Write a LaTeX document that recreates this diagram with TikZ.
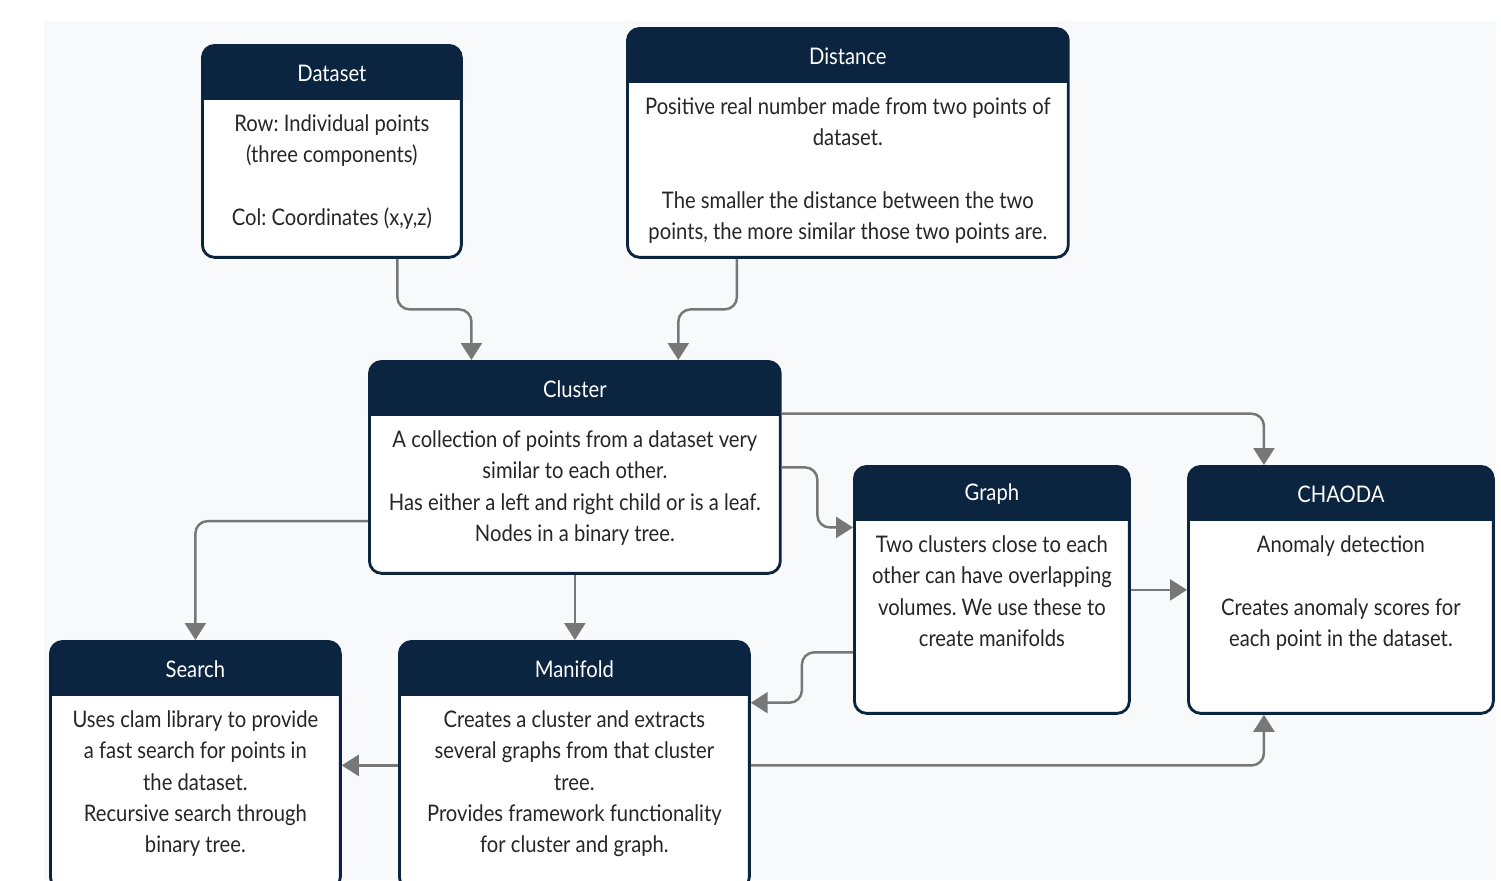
\documentclass[tikz,border=0pt]{standalone}
\usepackage{fontspec}
\setmainfont{Lato}[FakeStretch=0.885]
\usetikzlibrary{calc}
\usetikzlibrary{arrows.meta}
\usepackage{xcolor}
\definecolor{navy}{HTML}{0B2540}
\definecolor{linkgray}{HTML}{777777}
\definecolor{paper}{HTML}{F8F9FB}
\definecolor{ink}{HTML}{262626}
\frenchspacing

\begin{document}
\begin{tikzpicture}[x=0.02cm, y=-0.02cm]
        % ================= styles =================
        \tikzset{
            % card: white body with navy header band
            card/.style={draw=navy, line width=1.6pt, fill=white, rounded corners=7pt,
                anchor=north west, inner sep=0pt,
                path picture={\fill[navy, sharp corners] (path picture bounding box.north west)
                    rectangle ([yshift=-1.1cm]path picture bounding box.north east);}},
            % header title
            cardtitle/.style={text=white, font=\fontsize{13pt}{17.9pt}\selectfont, inner sep=0pt},
            % body text
            cardtext/.style={text=ink, align=center, anchor=north, inner sep=0pt,
                font=\fontsize{13pt}{17.9pt}\selectfont},
            % connector
            link/.style={draw=linkgray, line width=1.4pt, rounded corners=7pt,
                -{Triangle[width=0.42cm, length=0.34cm]}}
        }

        \clip (0,0) rectangle (1501,880);
        \fill[paper] (44,21) rectangle (1496,880);

        % ================= top row =================
        \node[card, minimum width=5.18cm, minimum height=4.24cm] (dataset) at (201,44) {};
        \node[cardtitle] (dataset-title) at ($(dataset.north)+(0,29)$) {Dataset};
        \node[cardtext] (dataset-txt) at ($(dataset.north)+(0,70)$)
            {Row: Individual points\\(three components)\\[17.9pt]Col: Coordinates (x,y,z)};

        \node[card, minimum width=8.82cm, minimum height=4.58cm] (distance) at (626,27) {};
        \node[cardtitle] (distance-title) at ($(distance.north)+(0,29)$) {Distance};
        \node[cardtext] (distance-txt) at ($(distance.north)+(0,70)$)
            {Positive real number made from two points of\\dataset.\\[17.9pt]The smaller the distance between the two\\points, the more similar those two points are.};

        % ================= middle row =================
        \node[card, minimum width=8.22cm, minimum height=4.24cm] (cluster) at (368,360) {};
        \node[cardtitle] (cluster-title) at ($(cluster.north)+(0,29)$) {Cluster};
        \node[cardtext] (cluster-txt) at ($(cluster.north)+(0,70)$)
            {A collection of points from a dataset very\\similar to each other.\\Has either a left and right child or is a leaf.\\Nodes in a binary tree.};

        \node[card, minimum width=5.5cm, minimum height=4.94cm] (graph) at (853,465) {};
        \node[cardtitle] (graph-title) at ($(graph.north)+(0,29)$) {Graph};
        \node[cardtext] (graph-txt) at ($(graph.north)+(0,70)$)
            {Two clusters close to each\\other can have overlapping\\volumes. We use these to\\create manifolds};

        \node[card, minimum width=6.1cm, minimum height=4.94cm] (chaoda) at (1187,465) {};
        \node[cardtitle] (chaoda-title) at ($(chaoda.north)+(0,29)$) {CHAODA};
        \node[cardtext] (chaoda-txt) at ($(chaoda.north)+(0,70)$)
            {Anomaly detection\\[17.9pt]Creates anomaly scores for\\each point in the dataset.};

        % ================= bottom row =================
        \node[card, minimum width=5.8cm, minimum height=4.96cm] (search) at (49,640) {};
        \node[cardtitle] (search-title) at ($(search.north)+(0,29)$) {Search};
        \node[cardtext] (search-txt) at ($(search.north)+(0,70)$)
            {Uses clam library to provide\\a fast search for points in\\the dataset.\\Recursive search through\\binary tree.};

        \node[card, minimum width=7cm, minimum height=4.96cm] (manifold) at (398,640) {};
        \node[cardtitle] (manifold-title) at ($(manifold.north)+(0,29)$) {Manifold};
        \node[cardtext] (manifold-txt) at ($(manifold.north)+(0,70)$)
            {Creates a cluster and extracts\\several graphs from that cluster\\tree.\\Provides framework functionality\\for cluster and graph.};

        % ================= connectors =================
        \coordinate (dataset-out) at ($(dataset.south west)!.75!(dataset.south east)$);
        \coordinate (distance-out) at ($(distance.south west)!.25!(distance.south east)$);
        \coordinate (cluster-in1) at ($(cluster.north west)!.25!(cluster.north east)$);
        \coordinate (cluster-in2) at ($(cluster.north west)!.75!(cluster.north east)$);
        \coordinate (graph-in) at ($(graph.north west)!.25!(graph.south west)$);
        \coordinate (graph-out) at ($(graph.north west)!.75!(graph.south west)$);
        \coordinate (manifold-in) at ($(manifold.north east)!.25!(manifold.south east)$);

        \draw[link] (dataset-out) |- ($(dataset-out)!.5!(cluster-in1)$) -| (cluster-in1);
        \draw[link] (distance-out) |- ($(distance-out)!.5!(cluster-in2)$) -| (cluster-in2);
        \draw[link] ($(cluster.north east)!.25!(cluster.south east)$)
            -| ($(chaoda.north west)!.25!(chaoda.north east)$);
        \draw[link] (cluster.east) -| ($(cluster.east)!.5!(graph-in)$) |- (graph-in);
        \draw[link] ($(cluster.north west)!.75!(cluster.south west)$) -| (search.north);
        \draw[link] (cluster.south) -- (cluster.south |- manifold.north);
        \draw[link] (graph.east) -- (chaoda.west);
        \draw[link] (graph-out) -| ($(graph-out)!.5!(manifold-in)$) |- (manifold-in);
        \draw[link] (manifold.east) -| ($(chaoda.south west)!.25!(chaoda.south east)$);
        \draw[link] (manifold.west) -- (search.east);

    \end{tikzpicture}
\end{document}
